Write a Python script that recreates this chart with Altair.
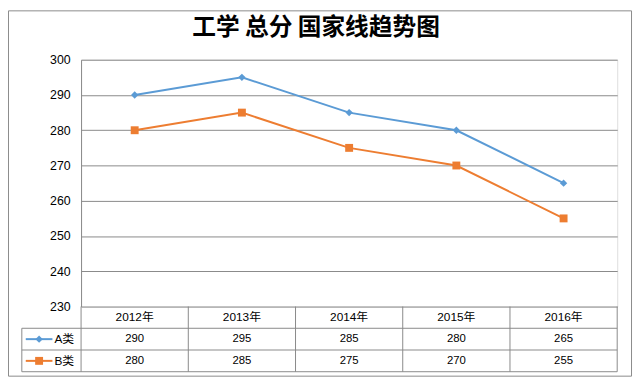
import altair as alt
import pandas as pd

# ---- data ----
years = ["2012年", "2013年", "2014年", "2015年", "2016年"]
series_names = ["A类", "B类"]
series_a = [290, 295, 285, 280, 265]
series_b = [280, 285, 275, 270, 255]
colors = ["#5B9BD5", "#ED7D31"]
shapes = ["diamond", "square"]
y_ticks = [230, 240, 250, 260, 270, 280, 290, 300]
title_text = "工学 总分 国家线趋势图"

# ---- layout ----
W, H = 543, 250
ROW = 22
LEFT, TOP = 74, 50
TOTAL_W, TOTAL_H = 633, 372
FONT = "Liberation Sans, Noto Sans CJK SC"
GRID = "#898989"

df = pd.DataFrame({
    "year": years * 2,
    "value": series_a + series_b,
    "series": [series_names[0]] * len(years) + [series_names[1]] * len(years),
})
df_years = pd.DataFrame({"year": years})
one = pd.DataFrame({"k": [1]})

xscale = alt.Scale(type="band", domain=years, paddingInner=0, paddingOuter=0)
yscale = alt.Scale(domain=[230, 300], nice=False, zero=False)
cscale = alt.Scale(domain=series_names, range=colors)

x_axis = alt.Axis(title=None, orient="bottom", domain=False, ticks=False, grid=False,
                  labelAngle=0, labelFontSize=12, labelFont=FONT, labelColor="#000000",
                  labelPadding=5)
y_axis = alt.Axis(title=None, values=y_ticks, domain=True, domainColor=GRID, domainWidth=1,
                  ticks=False, grid=True, gridColor=GRID, gridWidth=1, labelOverlap=False,
                  labelFontSize=12.5, labelFont=FONT, labelColor="#000000", labelPadding=11)

base = alt.Chart(df)

lines = base.mark_line(strokeWidth=2).encode(
    x=alt.X("year:N", scale=xscale, bandPosition=0.5, axis=x_axis, sort=years),
    y=alt.Y("value:Q", scale=yscale, axis=y_axis),
    color=alt.Color("series:N", scale=cscale, legend=None),
    detail="series:N",
)

pts = base.mark_point(filled=True, opacity=1).encode(
    x=alt.X("year:N", scale=xscale, bandPosition=0.5, axis=x_axis, sort=years),
    y=alt.Y("value:Q", scale=yscale, axis=y_axis),
    color=alt.Color("series:N", scale=cscale, legend=None),
    shape=alt.Shape("series:N", scale=alt.Scale(domain=series_names, range=shapes), legend=None),
    size=alt.Size("series:N", scale=alt.Scale(domain=series_names, range=[55, 64]), legend=None),
)

layers = []
# table horizontal lines
for k in (1, 2, 3):
    layers.append(
        alt.Chart(one).mark_rule(color=GRID, strokeWidth=1).encode(
            x=alt.value(-60), x2=alt.value(W), y=alt.value(H + k * ROW),
        )
    )
layers.append(
    alt.Chart(one).mark_rule(color=GRID, strokeWidth=1).encode(
        x=alt.value(-60), y=alt.value(H + ROW), y2=alt.value(H + 3 * ROW),
    )
)
# table vertical lines at band boundaries
layers.append(
    alt.Chart(df_years).mark_rule(color=GRID, strokeWidth=1).encode(
        x=alt.X("year:N", scale=xscale, bandPosition=0, axis=x_axis, sort=years),
        y=alt.value(H), y2=alt.value(H + 3 * ROW),
    )
)
layers.append(
    alt.Chart(df_years.tail(1)).mark_rule(color=GRID, strokeWidth=1).encode(
        x=alt.X("year:N", scale=xscale, bandPosition=1, axis=x_axis, sort=years),
        y=alt.value(H), y2=alt.value(H + 3 * ROW),
    )
)

# table value rows + legend glyphs
for i, name in enumerate(series_names):
    yc = H + ROW * (i + 1) + ROW / 2
    layers.append(
        alt.Chart(df[df["series"] == name]).mark_text(
            fontSize=11.5, font=FONT, color="#000000", baseline="middle", align="center"
        ).encode(
            x=alt.X("year:N", scale=xscale, bandPosition=0.5, axis=x_axis, sort=years),
            y=alt.value(yc),
            text=alt.Text("value:Q"),
        )
    )
    leg = pd.DataFrame({"series": [name]})
    layers.append(
        alt.Chart(leg).mark_rule(strokeWidth=2).encode(
            x=alt.value(-56), x2=alt.value(-29), y=alt.value(yc),
            color=alt.Color("series:N", scale=cscale, legend=None),
        )
    )
    layers.append(
        alt.Chart(leg).mark_point(filled=True, opacity=1, shape=shapes[i],
                                  size=55 if i == 0 else 64).encode(
            x=alt.value(-42.5), y=alt.value(yc),
            color=alt.Color("series:N", scale=cscale, legend=None),
        )
    )
    layers.append(
        alt.Chart(leg).mark_text(fontSize=12, font=FONT, color="#000000",
                                 align="left", baseline="middle").encode(
            x=alt.value(-27), y=alt.value(yc), text="series:N",
        )
    )

border = alt.Chart(one).mark_rect(fill=None, fillOpacity=0, stroke="#8a8a8a", strokeWidth=1).encode(
    x=alt.value(-LEFT + 0.5), x2=alt.value(TOTAL_W - LEFT - 1.5),
    y=alt.value(-TOP + 0.5), y2=alt.value(TOTAL_H - TOP - 1.5),
)

title = alt.Chart(pd.DataFrame({"t": [title_text]})).mark_text(
    font="Noto Sans CJK SC", fontSize=24, fontWeight="bold", color="#000000",
    align="center", baseline="middle"
).encode(x=alt.value(312 - LEFT), y=alt.value(18 - TOP), text="t:N")

chart = alt.layer(
    border, lines, pts, *layers, title
).properties(
    width=W, height=H,
    autosize=alt.AutoSizeParams(type="none"),
    padding={"left": LEFT, "top": TOP, "right": TOTAL_W - LEFT - W, "bottom": TOTAL_H - TOP - H},
).configure_view(stroke=None).configure(background="#ffffff")

chart.save("out.html", embed_options={"renderer": "svg", "actions": False})
